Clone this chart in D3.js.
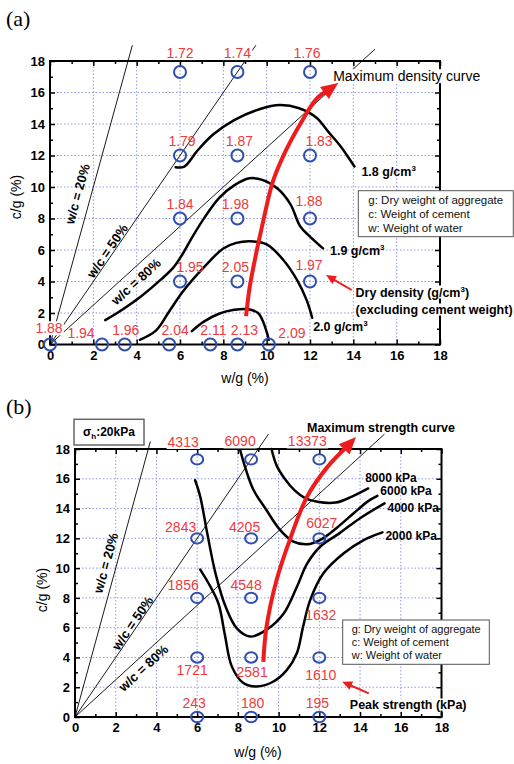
<!DOCTYPE html>
<html><head><meta charset="utf-8">
<script src="https://cdn.jsdelivr.net/npm/d3@7"></script>
<style>body{margin:0;background:#fff} svg{display:block}</style>
</head><body>
<svg id="chart" width="514" height="764"></svg>
<script>
// ---------- shared ----------
const axisTicks = [0,2,4,6,8,10,12,14,16,18];
const minorTicks = [1,3,5,7,9,11,13,15,17];
const wcRatios = [0.2, 0.5, 0.8];
const wcLabels = ["w/c = 20%", "w/c = 50%", "w/c = 80%"];
const legendLines = ["g: Dry weight of aggregate", "c: Weight of cement", "w: Weight of water"];

// ---------- panel (a): dry density ----------
const aPointX = [6,8.65,12, 6,8.65,12, 6,8.65,12, 6,8.65,12, 0,2.4,3.45,5.5,7.4,8.65,10.1];
const aPointY = [17.3,17.3,17.3, 12,12,12, 8,8,8, 4,4,4, 0,0,0,0,0,0,0];
const aDensity = ["1.72","1.74","1.76","1.79","1.87","1.83","1.84","1.98","1.88","1.95","2.05","1.97",
                  "1.88","1.94","1.96","2.04","2.11","2.13","2.09"];
const aContour18 = [[5.8,11.25],[6.2,11.3],[6.8,12.3],[7.5,13.3],[8.5,14.25],[9.7,14.95],[10.6,15.2],[11.5,15.0],[12.3,14.4],[12.85,13.5],[13.4,12.6],[14.05,11.3]];
const aContour19 = [[2.55,1.55],[3.1,2.0],[4.15,3.0],[5.1,4.1],[5.7,4.9],[6.1,5.7],[6.6,6.9],[7.2,8.2],[7.8,9.3],[8.5,10.1],[9.2,10.55],[9.8,10.45],[10.5,9.9],[11.1,8.9],[11.55,7.5],[12.0,6.85],[12.6,6.1]];
const aContour20 = [[4.15,0.3],[4.9,0.9],[5.5,2.1],[6.15,3.4],[7.1,4.9],[8.0,6.1],[8.6,6.45],[9.25,6.55],[10.0,6.35],[10.75,5.4],[11.4,4.1],[11.85,2.8],[12.1,1.7]];
const aContour21 = [[6.55,0.85],[7.1,1.45],[7.8,1.95],[8.5,2.2],[9.1,2.25],[9.6,2.0],[9.85,1.4],[10.0,0.8],[10.1,0.3]];
const aContourNames = ["1.8 g/cm", "1.9 g/cm", "2.0 g/cm", ""];
const aMaxCurve = [[9.05,1.8],[9.2,3.5],[9.4,5.0],[9.85,7.9],[10.3,10.4],[10.9,12.35],[11.55,14.0],[12.3,15.6],[13.3,16.6]];
const aPointer = [[13.92,3.46],[12.74,4.41]];
const aLineTop = [19, 19, 18.75];

// ---------- panel (b): peak strength ----------
const bPointX = [6,8.65,12, 6,8.65,12, 6,8.65,12, 6,8.65,12, 6,8.65,12];
const bPointY = [17.3,17.3,17.3, 12,12,12, 8,8,8, 4,4,4, 0,0,0];
const bStrength = ["4313","6090","13373","2843","4205","6027","1856","4548","1632","1721","2581","1610","243","180","195"];
const bContour8000 = [[9.65,18.0],[9.9,16.9],[10.3,16.0],[10.8,15.2],[11.3,14.7],[11.9,14.45],[12.8,14.4],[13.6,14.8],[14.4,15.35]];
const bContour6000 = [[8.1,18.0],[8.35,16.8],[8.75,15.3],[9.4,13.9],[10.05,12.6],[10.7,11.8],[11.4,11.6],[12.05,11.9],[12.85,12.7],[13.7,13.7],[14.4,14.5],[14.85,14.85]];
const bContour4000 = [[5.9,15.9],[6.15,14.8],[6.5,12.3],[6.9,9.65],[7.4,7.4],[7.95,5.95],[8.6,5.4],[9.4,5.85],[10.25,6.95],[10.9,8.75],[11.4,10.3],[12.05,11.45],[13.0,12.35],[14.0,13.35],[15.2,14.35]];
const bContour2000 = [[6.15,9.9],[6.55,9.0],[7.05,7.6],[7.35,5.6],[7.7,3.4],[8.25,2.3],[8.9,2.05],[9.7,2.35],[10.4,3.15],[10.9,4.3],[11.2,6.05],[11.55,7.85],[12.2,9.65],[13.2,11.0],[14.2,11.9],[15.1,12.4]];
const bContourNames = ["8000 kPa", "6000 kPa", "4000 kPa", "2000 kPa"];
const bMaxCurve = [[9.25,3.7],[9.4,6.0],[9.9,9.2],[10.55,11.9],[11.4,14.8],[12.4,16.8],[13.8,18.8]];
const bPointer = [[14.43,1.59],[13.12,2.37]];
const bLineTop = [18.5, 19, 19];

// ---------- layout (pixels) ----------
const FONT = "'Liberation Sans', Arial, Helvetica, sans-serif";
const RED_TXT = "#f03a3a", RED = "#ee1c1c", BLUE = "#2f4fb0", GRID = "#9098e6";

const panels = [
  {
    xRange:[50,440], yRange:[344.5,61],
    px:aPointX, py:aPointY, vals:aDensity, rx:6, ry:6,
    labelOff:[[0,-19],[0,-19],[-3,-19],[2,-15],[2,-15],[9,-15],[0,-14.5],[-2,-14.5],[-1,-17.5],[10,-14.5],[-2,-14.5],[-1,-16.5],
              [-1,-16.3],[-21,-11.5],[1,-15],[6,-14.5],[3,-14.5],[7,-14.5],[23,-12]],
    contours:[aContour18,aContour19,aContour20,aContour21], cNames:aContourNames, sup:true, cSize:12.5,
    cOff:[[7,5.5],[7,2],[1,9],[0,0]],
    lineTop:aLineTop, wcAt:[9.56,5.94,4.96], wcOff:[[-14,0],[-7,0],[0,15.3]],
    maxCurve:aMaxCurve, maxText:"Maximum density curve", maxBold:false, maxSize:14, maxOff:[-5,-7],
    pointer:aPointer, pTexts:["Dry density (g/cm", "(excluding cement weight)"], pOff:[[4,2],[4,19]],
    legend:{x:358.3,y:190.7,w:155,h:46,size:11.5,lh:14,tx:10},
    tag:"(a)", tagPos:[6,26], xTitle:[245,383], yTitle:[21,197]
  },
  {
    xRange:[75,441.5], yRange:[717,449],
    px:bPointX, py:bPointY, vals:bStrength, rx:6, ry:5.2,
    labelOff:[[-14,-17.5],[-11,-18],[-12,-18],[-16.5,-11],[-6.5,-11],[2.5,-15.5],[-14,-13],[-5,-13],[1.5,17.5],
              [-5,13],[1,15],[1.5,18],[-3,-14],[1.5,-14],[-2,-14]],
    contours:[bContour8000,bContour6000,bContour4000,bContour2000], cNames:bContourNames, sup:false, cSize:12,
    cOff:[[-3,-11],[3,-5],[3,4],[3,3]],
    lineTop:bLineTop, wcAt:[10.34,6.31,4.2], wcOff:[[-11.3,0],[-6.7,0],[0,13.5]],
    maxCurve:bMaxCurve, maxText:"Maximum strength curve", maxBold:true, maxSize:12.5, maxOff:[-49,-10],
    pointer:bPointer, pTexts:["Peak strength (kPa)"], pOff:[[-19,10.7]],
    legend:{x:342.7,y:620,w:146.6,h:44.3,size:11,lh:13.3,tx:9},
    tag:"(b)", tagPos:[6,414], xTitle:[258,757], yTitle:[47,590],
    sigma:{x:74,y:419.3,w:70,h:25.7}
  }
];

const svg = d3.select("#chart");

function arrowHead(g, tip, from, len, hw, color) {
  const dx = tip[0]-from[0], dy = tip[1]-from[1], L = Math.hypot(dx,dy);
  const ux = dx/L, uy = dy/L, nx = -uy, ny = ux;
  const bx = tip[0]-ux*len, by = tip[1]-uy*len;
  g.append("path")
    .attr("d", `M${tip[0]},${tip[1]}L${bx+nx*hw},${by+ny*hw}L${bx-nx*hw},${by-ny*hw}Z`)
    .attr("fill", color);
  return [tip[0]-ux*len*0.7, tip[1]-uy*len*0.7];
}

function drawPanel(p) {
  const x = d3.scaleLinear().domain([0,18]).range(p.xRange);
  const y = d3.scaleLinear().domain([0,18]).range(p.yRange);
  const g = svg.append("g");

  // grid
  const inner = axisTicks.slice(1,-1);
  g.append("g").selectAll("line").data(inner).join("line")
    .attr("x1", d=>x(d)).attr("x2", d=>x(d)).attr("y1", y(0)).attr("y2", y(18))
    .attr("stroke", GRID).attr("stroke-width", 1).attr("stroke-dasharray", "1.5,2");
  g.append("g").selectAll("line").data(inner).join("line")
    .attr("y1", d=>y(d)).attr("y2", d=>y(d)).attr("x1", x(0)).attr("x2", x(18))
    .attr("stroke", GRID).attr("stroke-width", 1).attr("stroke-dasharray", "1.5,2");

  // axes
  const styleAxis = sel => {
    sel.select(".domain").remove();
    sel.selectAll("line").attr("stroke","#000").attr("stroke-width",1.5);
    sel.selectAll("text").attr("font-family",FONT).attr("font-size",13).attr("font-weight","bold").attr("fill","#000");
  };
  g.append("g").attr("transform",`translate(0,${y(0)})`)
    .call(d3.axisBottom(x).tickValues(axisTicks).tickSize(-5).tickSizeOuter(0).tickPadding(6).tickFormat(d3.format("d"))).call(styleAxis);
  g.append("g").attr("transform",`translate(0,${y(0)})`)
    .call(d3.axisBottom(x).tickValues(minorTicks).tickSize(-3).tickSizeOuter(0).tickFormat("")).call(styleAxis);
  g.append("g").attr("transform",`translate(${x(0)},0)`)
    .call(d3.axisLeft(y).tickValues(axisTicks).tickSize(-5).tickSizeOuter(0).tickPadding(5).tickFormat(d3.format("d"))).call(styleAxis);
  g.append("g").attr("transform",`translate(${x(0)},0)`)
    .call(d3.axisLeft(y).tickValues(minorTicks).tickSize(-3).tickSizeOuter(0).tickFormat("")).call(styleAxis);
  g.append("g").attr("transform",`translate(0,${y(18)})`)
    .call(d3.axisTop(x).tickValues(axisTicks).tickSize(-5).tickSizeOuter(0).tickFormat("")).call(styleAxis);
  g.append("g").attr("transform",`translate(0,${y(18)})`)
    .call(d3.axisTop(x).tickValues(minorTicks).tickSize(-3).tickSizeOuter(0).tickFormat("")).call(styleAxis);
  g.append("g").attr("transform",`translate(${x(18)},0)`)
    .call(d3.axisRight(y).tickValues(axisTicks).tickSize(-5).tickSizeOuter(0).tickFormat("")).call(styleAxis);
  g.append("g").attr("transform",`translate(${x(18)},0)`)
    .call(d3.axisRight(y).tickValues(minorTicks).tickSize(-3).tickSizeOuter(0).tickFormat("")).call(styleAxis);
  g.append("rect").attr("x",x(0)).attr("y",y(18)).attr("width",x(18)-x(0)).attr("height",y(0)-y(18))
    .attr("fill","none").attr("stroke","#000").attr("stroke-width",2);

  // axis titles
  g.append("text").attr("x",p.xTitle[0]).attr("y",p.xTitle[1]).attr("text-anchor","middle")
    .attr("font-family",FONT).attr("font-size",14).text("w/g (%)");
  g.append("text").attr("transform",`translate(${p.yTitle[0]},${p.yTitle[1]}) rotate(-90)`).attr("text-anchor","middle")
    .attr("font-family",FONT).attr("font-size",14).text("c/g (%)");
  g.append("text").attr("x",p.tagPos[0]).attr("y",p.tagPos[1])
    .attr("font-family","'Liberation Serif','Times New Roman',serif").attr("font-size",22).text(p.tag);

  // w/c lines
  wcRatios.forEach((r,i) => {
    const top = p.lineTop[i];
    g.append("line").attr("x1",x(0)).attr("y1",y(0)).attr("x2",x(top*r)).attr("y2",y(top))
      .attr("stroke","#000").attr("stroke-width",0.9);
    const yy = p.wcAt[i], xx = yy*r;
    const ang = Math.atan2(y(top)-y(0), x(top*r)-x(0))*180/Math.PI;
    g.append("text").attr("transform",`translate(${x(xx)+p.wcOff[i][0]},${y(yy)+p.wcOff[i][1]}) rotate(${ang})`)
      .attr("text-anchor","middle").attr("dy","0.35em").attr("font-family",FONT).attr("font-size",13)
      .attr("font-weight","bold").text(wcLabels[i]);
  });

  // contours
  const line = d3.line().x(d=>x(d[0])).y(d=>y(d[1])).curve(d3.curveCatmullRom.alpha(0.5));
  p.contours.forEach((c,i) => {
    g.append("path").attr("d",line(c)).attr("fill","none").attr("stroke","#000").attr("stroke-width",2.5)
      .attr("stroke-linecap","round").attr("stroke-linejoin","round");
    if (p.cNames[i]) {
      const e = c[c.length-1];
      const t = g.append("text").attr("x",x(e[0])+p.cOff[i][0]).attr("y",y(e[1])+p.cOff[i][1]).attr("dy","0.35em")
        .attr("font-family",FONT).attr("font-size",p.cSize).attr("font-weight","bold").text(p.cNames[i]);
      if (p.sup) t.append("tspan").attr("dy",-5).attr("font-size",8).text("3");
    }
  });

  // circles
  const idx = d3.range(p.vals.length);
  g.append("g").selectAll("ellipse").data(idx).join("ellipse")
    .attr("cx", i=>x(p.px[i])).attr("cy", i=>y(p.py[i])).attr("rx",p.rx).attr("ry",p.ry)
    .attr("fill","none").attr("stroke",BLUE).attr("stroke-width",2);

  // max curve arrow
  const mpts = p.maxCurve.map(d=>[x(d[0]),y(d[1])]);
  const tip = mpts[mpts.length-1];
  const aLayer = g.append("g");
  const base = arrowHead(aLayer, tip, mpts[mpts.length-2], 17, 7.5, RED);
  const shortened = mpts.slice(0,-1).concat([base]);
  aLayer.insert("path",":first-child").attr("d", d3.line().curve(d3.curveCatmullRom.alpha(0.5))(shortened))
    .attr("fill","none").attr("stroke",RED).attr("stroke-width",4);

  // pointer arrow
  const ptail = [x(p.pointer[0][0]), y(p.pointer[0][1])], ptip = [x(p.pointer[1][0]), y(p.pointer[1][1])];
  const pb = arrowHead(aLayer, ptip, ptail, 10, 4.5, RED);
  aLayer.append("line").attr("x1",ptail[0]).attr("y1",ptail[1]).attr("x2",pb[0]).attr("y2",pb[1])
    .attr("stroke",RED).attr("stroke-width",2);

  // text layers
  const bgLayer = g.append("g"), txLayer = g.append("g");
  const needsBg = (bb) => {
    const L=x(0), R=x(18), T=y(18), B=y(0);
    const crossV = (vx) => bb.x < vx && bb.x+bb.width > vx && bb.y+bb.height > T && bb.y < B;
    const crossH = (hy) => bb.y < hy && bb.y+bb.height > hy && bb.x+bb.width > L && bb.x < R;
    return crossV(L) || crossV(R) || crossH(T) || crossH(B);
  };
  const addBg = (t) => {
    const bb = t.node().getBBox();
    if (needsBg(bb)) bgLayer.append("rect").attr("x",bb.x-1).attr("y",bb.y+1).attr("width",bb.width+2).attr("height",bb.height-2).attr("fill","#fff");
  };

  idx.forEach(i => {
    const t = txLayer.append("text").attr("x", x(p.px[i])+p.labelOff[i][0]).attr("y", y(p.py[i])+p.labelOff[i][1])
      .attr("dy","0.36em").attr("text-anchor","middle").attr("font-family",FONT).attr("font-size",14)
      .attr("fill",RED_TXT).text(p.vals[i]);
    addBg(t);
  });

  const mt = txLayer.append("text").attr("x",tip[0]+p.maxOff[0]).attr("y",tip[1]+p.maxOff[1]).attr("dy","0.36em")
    .attr("font-family",FONT).attr("font-size",p.maxSize).attr("font-weight",p.maxBold?"bold":"normal").text(p.maxText);
  addBg(mt);

  p.pTexts.forEach((s,i) => {
    const t = txLayer.append("text").attr("x",ptail[0]+p.pOff[i][0]).attr("y",ptail[1]+p.pOff[i][1]).attr("dy","0.36em")
      .attr("font-family",FONT).attr("font-size",12.5).attr("font-weight","bold").text(s);
    if (p.sup && i===0) { t.append("tspan").attr("dy",-5).attr("font-size",8).text("3"); t.append("tspan").attr("dy",5).text(")"); }
    addBg(t);
  });

  // legend box
  const L = p.legend;
  g.append("rect").attr("x",L.x).attr("y",L.y).attr("width",L.w).attr("height",L.h)
    .attr("fill","#fff").attr("stroke","#555").attr("stroke-width",1);
  legendLines.forEach((s,i) => {
    g.append("text").attr("x",L.x+L.tx).attr("y",L.y+L.h/2+(i-1)*L.lh).attr("dy","0.36em")
      .attr("font-family",FONT).attr("font-size",L.size).attr("fill","#111").text(s);
  });

  if (p.sigma) {
    const S = p.sigma;
    g.append("rect").attr("x",S.x).attr("y",S.y).attr("width",S.w).attr("height",S.h)
      .attr("fill","#fff").attr("stroke","#666").attr("stroke-width",1.5);
    const t = g.append("text").attr("x",S.x+S.w/2).attr("y",S.y+S.h/2).attr("dy","0.36em").attr("text-anchor","middle")
      .attr("font-family",FONT).attr("font-size",12).attr("font-weight","bold").text("σ");
    t.append("tspan").attr("dy",3).attr("font-size",8).text("h");
    t.append("tspan").attr("dy",-3).text(":20kPa");
  }
}

panels.forEach(drawPanel);
</script>
</body></html>
